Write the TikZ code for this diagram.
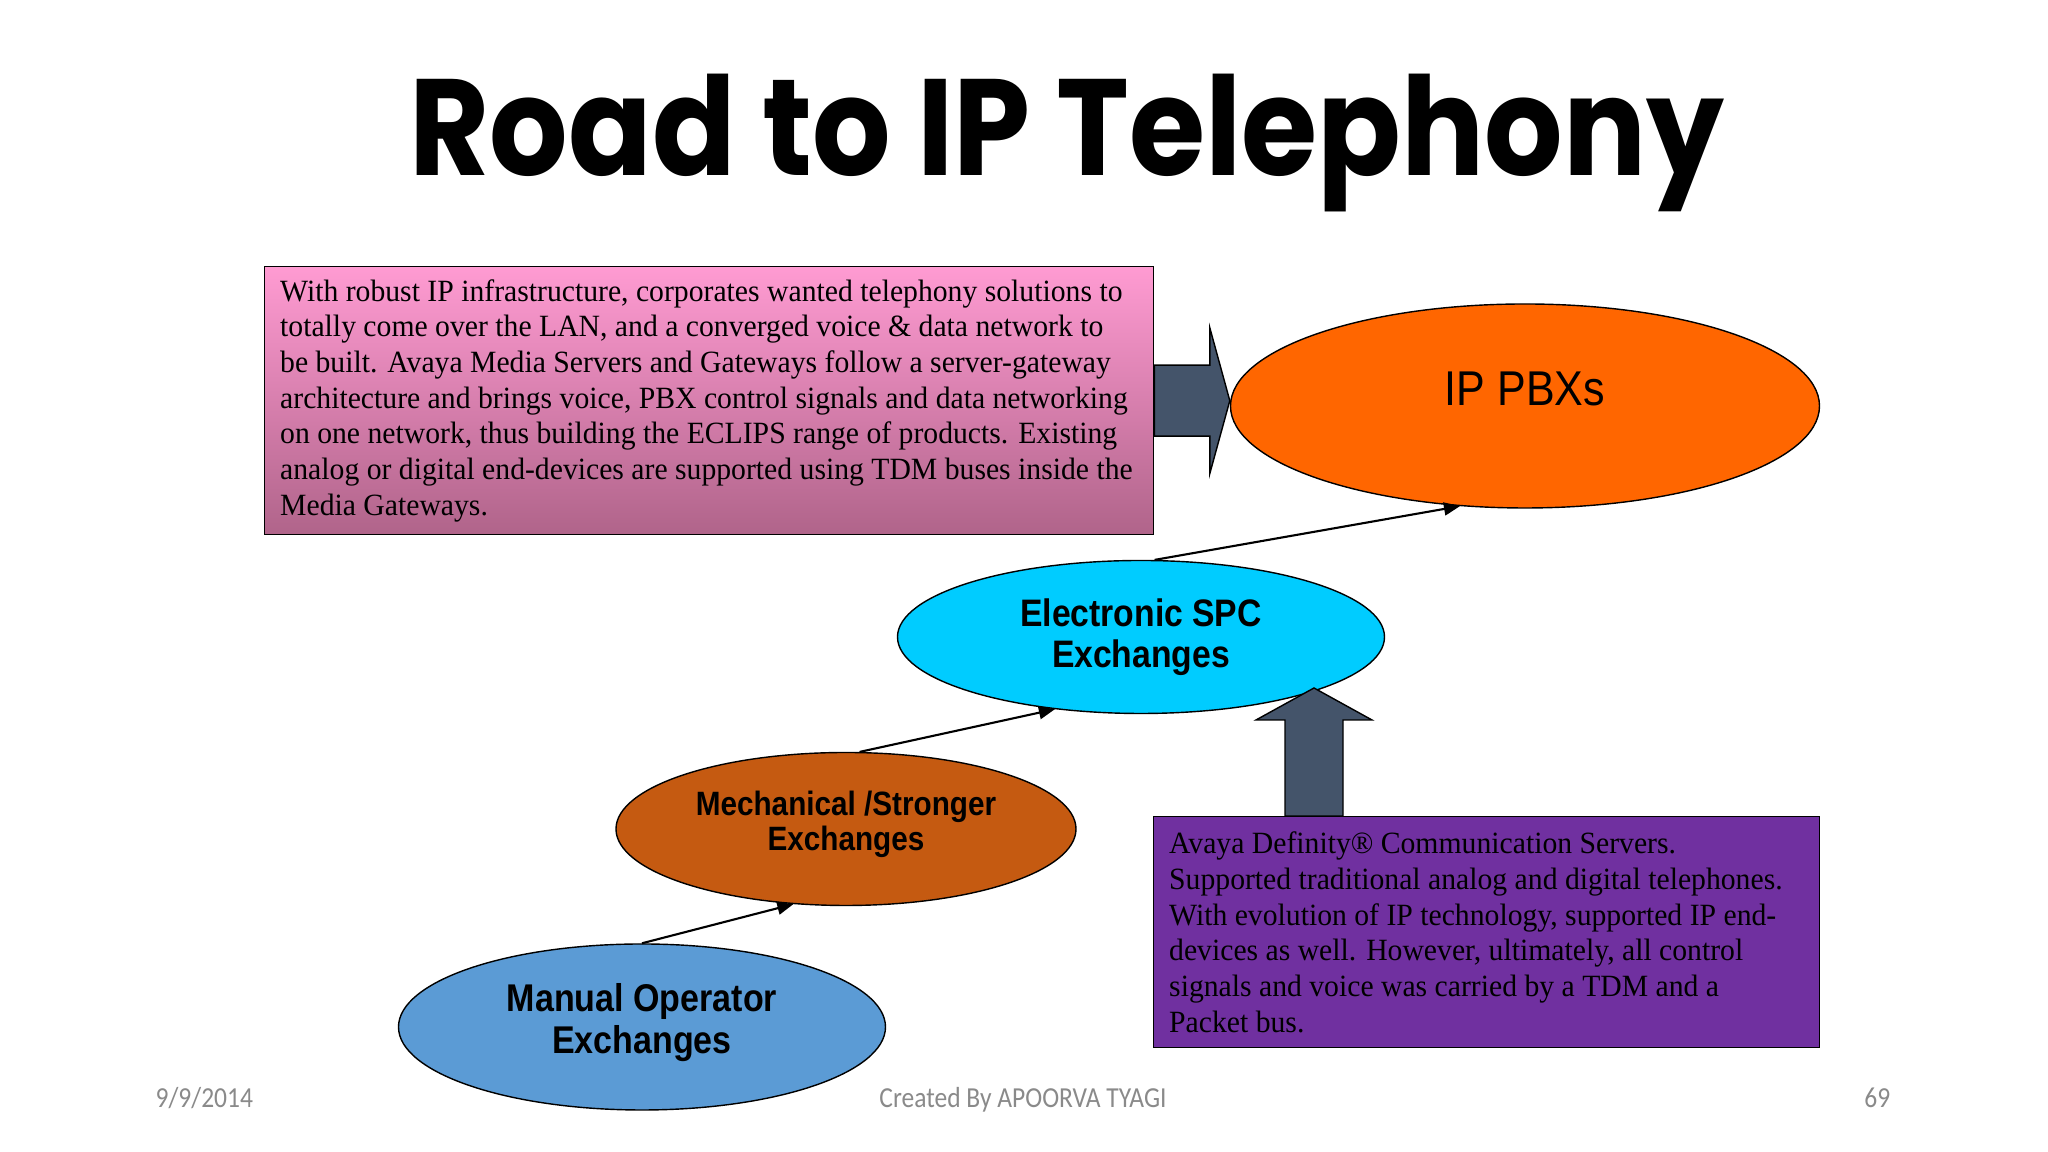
\documentclass[tikz,border=0pt]{standalone}
\usepackage{fontspec}
\setmainfont{Liberation Serif}[FakeStretch=0.96]
\newfontfamily\titlefont{Poppins}[FakeStretch=0.9]
\newfontfamily\arialfont{Liberation Sans}[FakeStretch=0.88]
\newfontfamily\footfont{Carlito}[FakeStretch=0.88]
\usetikzlibrary{shapes.geometric,arrows.meta,calc,positioning}
\definecolor{slate}{HTML}{44546A}
\definecolor{pinktop}{RGB}{255,155,210}
\definecolor{pinkbottom}{RGB}{176,100,138}
\definecolor{pbxorange}{HTML}{FF6600}
\definecolor{spccyan}{HTML}{00CCFF}
\definecolor{mechbrown}{HTML}{C55A11}
\definecolor{manualblue}{HTML}{5B9BD5}
\definecolor{definitypurple}{HTML}{7030A0}
\definecolor{footgray}{HTML}{8A8A8A}
\begin{document}
\begin{tikzpicture}[
  oval/.style = {draw, ellipse, inner sep=0pt, line width=0.4pt, align=center},
  infobox/.style = {draw, rectangle, anchor=north west, inner xsep=0.155cm, inner ysep=0pt, align=flush left, font=\fontsize{8.8}{10.15}\selectfont},
  bigarrow/.style = {draw, fill=slate, line width=0.4pt},
  link/.style = {-{Triangle[length=1.6mm,width=1.3mm]}, line width=0.6pt},
  foot/.style = {text=footgray, inner sep=0pt, font=\footfont\fontsize{8.25}{9.9}\selectfont}
]
\useasboundingbox (0,0) rectangle (20.48,11.52);
\fill[white] (0,0) rectangle (20.48,11.52);

\node[font=\titlefont\bfseries\fontsize{39}{40}\selectfont, anchor=base] (title) at (10.67,9.76) {Road to IP Telephony};

% text boxes
\node[infobox, top color=pinktop, bottom color=pinkbottom, minimum width=8.89cm, minimum height=2.68cm, text width=8.58cm] (eclips) at (2.64,8.86)
  {With robust IP infrastructure, corporates wanted telephony solutions to\\
   totally come over the LAN, and a converged voice \& data network to\\
   be built. Avaya Media Servers and Gateways follow a server-gateway\\
   architecture and brings voice, PBX control signals and data networking\\
   on one network, thus building the ECLIPS range of products. Existing\\
   analog or digital end-devices are supported using TDM buses inside the\\
   Media Gateways.};
\node[infobox, fill=definitypurple, minimum width=6.66cm, minimum height=2.31cm, text width=6.35cm] (definity) at (11.53,3.36)
  {Avaya Definity® Communication Servers.\\
   Supported traditional analog and digital telephones.\\
   With evolution of IP technology, supported IP end-\\
   devices as well. However, ultimately, all control\\
   signals and voice was carried by a TDM and a\\
   Packet bus.};

% exchanges
\node[oval, fill=pbxorange, minimum width=5.89cm, minimum height=2.04cm,
  label={[yshift=0.17cm, font=\arialfont\fontsize{13.9}{16}\selectfont]center:IP PBXs}] (pbx) at (15.25,7.46) {};
\node[oval, fill=spccyan, minimum width=4.87cm, minimum height=1.53cm, font=\arialfont\bfseries\fontsize{10.9}{11.7}\selectfont] (spc) at (11.41,5.15) {Electronic SPC\\Exchanges};
\node[oval, fill=mechbrown, minimum width=4.60cm, minimum height=1.53cm,
  label={[yshift=0.05cm, align=center, font=\arialfont\bfseries\fontsize{9.6}{10}\selectfont]center:Mechanical /Stronger\\Exchanges}] (mech) at (8.46,3.23) {};
\node[oval, fill=manualblue, minimum width=4.87cm, minimum height=1.66cm,
  label={[yshift=0.04cm, align=center, font=\arialfont\bfseries\fontsize{11}{12}\selectfont]center:Manual Operator\\Exchanges}] (manual) at (6.42,1.25) {};

\draw[link] (manual.north) -- (mech.235);
\draw[link] (mech.80) -- (spc.220);
\draw[link] (spc.80) -- (pbx.237);

% block arrows
\coordinate (rtip) at (pbx.west |- eclips.east);
\draw[bigarrow] (rtip) -- ++(-0.2,0.73) -- ++(0,-0.375) -- ($(eclips.east)+(0,0.355)$)
  -- ($(eclips.east)+(0,-0.355)$) -- ($(rtip)+(-0.2,-0.355)$) -- ($(rtip)+(-0.2,-0.73)$) -- cycle;
\coordinate (uptip) at (13.14,4.64);
\draw[bigarrow] (uptip) -- ++(0.58,-0.32) -- ++(-0.29,0) -- ($(uptip |- definity.north)+(0.29,0)$)
  -- ($(uptip |- definity.north)+(-0.29,0)$) -- ($(uptip)+(-0.29,-0.32)$) -- ($(uptip)+(-0.58,-0.32)$) -- cycle;

% footer
\node[foot, anchor=base west] (date) at (1.55,0.44) {9/9/2014};
\node[foot, anchor=base] (credit) at (10.23,0.44) {Created By APOORVA TYAGI};
\node[foot, anchor=base east] (page) at (18.91,0.44) {69};
\end{tikzpicture}
\end{document}
